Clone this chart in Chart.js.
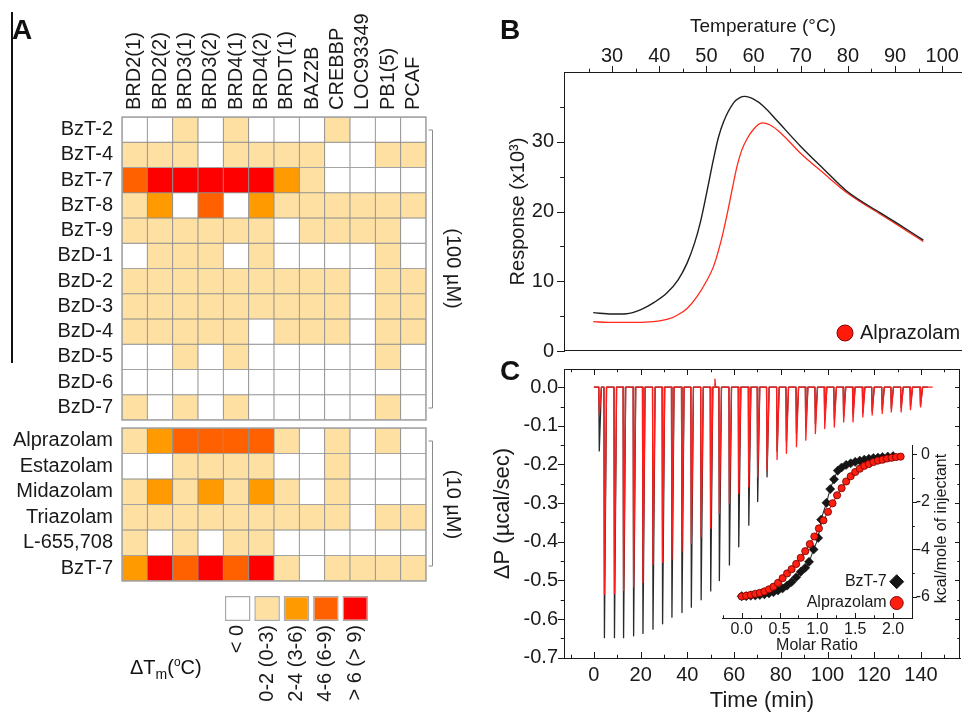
<!DOCTYPE html>
<html>
<head>
<meta charset="utf-8">
<script src="https://cdn.jsdelivr.net/npm/chart.js@4.4.1/dist/chart.umd.min.js"></script>
<style>
  body { margin: 0; background: #fff; }
  #fig { position: relative; width: 962px; height: 712px; overflow: hidden;
         font-family: 'Liberation Sans', Arial, Helvetica, sans-serif; color: #111; }
  #fig canvas, #fig .txt { position: absolute; }
  .panel { font-weight: bold; font-size: 28px; line-height: 28px; }
</style>
</head>
<body>
<div id="fig">
  <div style="position:absolute;left:11px;top:12px;width:1.5px;height:351px;background:#111"></div>
  <canvas id="heat100" width="480" height="424" style="left:0;top:0"></canvas>
  <canvas id="heat10" width="480" height="172" style="left:0;top:420px"></canvas>
  <canvas id="heatKey" width="200" height="122" style="left:200px;top:590px"></canvas>
  <canvas id="dsf" width="482" height="360" style="left:480px;top:0"></canvas>
  <canvas id="itc" width="482" height="360" style="left:480px;top:352px"></canvas>
  <canvas id="iso" width="262" height="230" style="left:700px;top:430px"></canvas>
  <div class="txt panel" style="left:12px;top:16px">A</div>
  <div class="txt panel" style="left:500px;top:16px">B</div>
  <div class="txt panel" style="left:500px;top:357px">C</div>
  <div class="txt" style="left:130px;top:650px;font-size:20px;line-height:24px">ΔT<sub style="font-size:14px">m</sub>(<sup style="font-size:12px">o</sup>C)</div>
</div>
<script>
// ---------- panel A: thermal shift screen ----------
const targets = ['BRD2(1)', 'BRD2(2)', 'BRD3(1)', 'BRD3(2)', 'BRD4(1)', 'BRD4(2)',
                 'BRDT(1)', 'BAZ2B', 'CREBBP', 'LOC93349', 'PB1(5)', 'PCAF'];
const compounds100 = ['BzT-2', 'BzT-4', 'BzT-7', 'BzT-8', 'BzT-9', 'BzD-1',
                      'BzD-2', 'BzD-3', 'BzD-4', 'BzD-5', 'BzD-6', 'BzD-7'];
// shift class per cell: 0 "< 0", 1 "0-2", 2 "2-4", 3 "4-6", 4 "> 6"
const shift100 = [
  [0, 0, 1, 0, 1, 0, 0, 0, 1, 0, 0, 0],
  [1, 1, 1, 0, 1, 1, 1, 1, 0, 0, 1, 1],
  [3, 4, 4, 4, 4, 4, 2, 1, 0, 0, 0, 0],
  [1, 2, 0, 3, 0, 2, 1, 1, 1, 1, 1, 1],
  [1, 1, 1, 1, 1, 1, 0, 1, 1, 1, 1, 0],
  [0, 1, 1, 1, 0, 1, 0, 0, 0, 0, 1, 0],
  [1, 1, 1, 1, 1, 1, 1, 1, 1, 0, 1, 1],
  [1, 1, 1, 1, 1, 1, 1, 1, 1, 0, 1, 1],
  [1, 1, 1, 1, 1, 0, 1, 1, 1, 0, 1, 1],
  [0, 0, 1, 0, 1, 0, 0, 0, 0, 0, 1, 0],
  [0, 0, 0, 0, 0, 0, 0, 0, 0, 0, 0, 0],
  [1, 0, 1, 0, 1, 0, 0, 0, 0, 0, 1, 0]
];
const compounds10 = ['Alprazolam', 'Estazolam', 'Midazolam', 'Triazolam', 'L-655,708', 'BzT-7'];
const shift10 = [
  [1, 2, 3, 3, 3, 3, 1, 0, 1, 0, 1, 0],
  [0, 0, 1, 1, 1, 1, 0, 0, 1, 0, 0, 0],
  [1, 2, 1, 2, 1, 2, 1, 0, 1, 0, 0, 0],
  [1, 1, 1, 1, 1, 1, 1, 1, 1, 0, 1, 1],
  [1, 0, 1, 0, 1, 1, 0, 0, 0, 0, 0, 0],
  [2, 4, 3, 4, 3, 4, 1, 0, 1, 1, 1, 1]
];
const shiftClasses = ['< 0', '0-2 (0-3)', '2-4 (3-6)', '4-6 (6-9)', '> 6 (> 9)'];

// ---------- panel B: melting curves ----------
const tempRef = [26, 30, 33, 36, 39, 41.6, 44, 45.9, 47.5, 48.7, 50, 51.5, 52.5, 53.6, 55.8, 57,
                 58.2, 60, 62.1, 65, 69.9, 75, 79.8, 86.9, 90, 96];
const respRef = [5.5, 5.3, 5.35, 5.9, 7.0, 8.3, 10.2, 12.6, 15.5, 18.4, 22.5, 27.5, 30.5, 32.8, 35.6, 36.3,
                 36.5, 36.1, 35.1, 33.0, 29.4, 26.0, 22.9, 19.8, 18.5, 15.9];
const tempAlp = [26, 30, 35, 38.7, 42, 44, 45.9, 48, 50, 51.5, 53, 54.3, 55.5, 56.5, 57.5, 58.6,
                 60, 61.8, 63.5, 65.7, 69.9, 75, 79.8, 86.9, 90, 96];
const respAlp = [4.2, 4.1, 4.1, 4.2, 4.6, 5.2, 6.1, 7.8, 10.0, 12.1, 15.5, 19.3, 23.3, 26.5, 28.8, 30.4,
                 31.8, 32.7, 32.4, 31.3, 28.4, 25.4, 22.7, 19.6, 18.3, 15.7];

// ---------- panel C: ITC raw heats (injection time, peak of each spike) ----------
const injTimes = [2.1, 4.3, 8.6, 12.5, 16.8, 20.8, 25.1, 29.2, 33.2, 37.5, 41.5, 45.7, 49.8, 53.5,
                  57.8, 61.8, 66.1, 69.9, 73.9, 78.2, 82.2, 86.5, 90.5, 94.6, 98.6, 102.7, 106.7,
                  110.7, 114.9, 118.9, 123.2, 127.1, 131.3, 135.3, 139.6];
const peaksBzT = [-0.165, -0.648, -0.648, -0.648, -0.643, -0.637, -0.626, -0.612, -0.595, -0.583,
                  -0.569, -0.550, -0.527, -0.500, -0.460, -0.413, -0.357, -0.296, -0.232, -0.165,
                  -0.140, -0.120, -0.105, -0.095, -0.088, -0.082, -0.076, -0.070, -0.066, -0.062,
                  -0.058, -0.055, -0.052, -0.050, -0.047];
const peaksAlp = [-0.070, -0.536, -0.533, -0.526, -0.516, -0.505, -0.458, -0.453, -0.445, -0.424,
                  -0.404, -0.387, -0.365, -0.327, -0.300, -0.275, -0.258, -0.232, -0.215, -0.187,
                  -0.171, -0.154, -0.137, -0.120, -0.107, -0.103, -0.090, -0.090, -0.077, -0.072,
                  -0.068, -0.064, -0.064, -0.058, -0.051];
const blipAlp = [[51.8, 0.021]];

// inset: integrated heats
const ratioBzT = [0.00, 0.06, 0.12, 0.18, 0.24, 0.30, 0.36, 0.42, 0.48, 0.54, 0.60, 0.66, 0.72, 0.78,
                  0.84, 0.89, 0.95, 1.01, 1.05, 1.12, 1.17, 1.22, 1.27, 1.32, 1.38, 1.44, 1.50, 1.56,
                  1.62, 1.68, 1.74, 1.80, 1.86, 1.93, 2.00];
const heatBzT = [-5.98, -5.98, -5.96, -5.95, -5.93, -5.90, -5.86, -5.81, -5.74, -5.65, -5.53, -5.38,
                 -5.18, -4.95, -4.78, -4.53, -4.01, -3.52, -2.75, -2.04, -1.46, -1.05, -0.68, -0.55,
                 -0.44, -0.37, -0.31, -0.26, -0.22, -0.18, -0.15, -0.13, -0.11, -0.09, -0.07];
const ratioAlp = [0.00, 0.06, 0.12, 0.18, 0.24, 0.30, 0.36, 0.42, 0.48, 0.54, 0.60, 0.66, 0.72, 0.78,
                  0.84, 0.90, 0.96, 1.02, 1.08, 1.14, 1.20, 1.26, 1.32, 1.38, 1.44, 1.50, 1.56, 1.62,
                  1.68, 1.74, 1.80, 1.86, 1.92, 1.98, 2.04, 2.10];
const heatAlp = [-5.99, -5.96, -5.92, -5.88, -5.84, -5.78, -5.69, -5.58, -5.42, -5.22, -5.02, -4.84,
                 -4.62, -4.36, -4.08, -3.78, -3.46, -3.12, -2.78, -2.42, -2.06, -1.72, -1.42, -1.14,
                 -0.92, -0.74, -0.60, -0.48, -0.40, -0.32, -0.26, -0.22, -0.17, -0.14, -0.11, -0.09];

// ---------- styling ----------
const ink = '#1a1a1a';
const shiftColours = ['#ffffff', '#fde0a2', '#ff9a00', '#ff6000', '#ff0000'];
const fontFamily = "'Liberation Sans', Arial, Helvetica, sans-serif";

Chart.defaults.font.family = fontFamily;
Chart.defaults.color = ink;
Chart.defaults.animation = false;
Chart.defaults.plugins.legend.display = false;
Chart.defaults.plugins.tooltip.enabled = false;

const pairs = (xs, ys) => xs.map((x, i) => ({x: x, y: ys[i]}));

// pin an axis box to a fixed size so the plot areas line up with the figure
function fixSize(size) {
  return function (scale) {
    if (scale.isHorizontal()) {
      scale.height = size;
      scale.paddingLeft = 0;
      scale.paddingRight = 0;
    } else {
      scale.width = size;
      scale.paddingTop = 0;
      scale.paddingBottom = 0;
    }
  };
}
const noGrid = {display: false, drawTicks: false};
const axisLine = {display: true, color: ink, width: 1};

// major / minor tick marks plus extra frame sides
const axisMarks = {
  id: 'axisMarks',
  afterDraw(chart, args, opts) {
    const ctx = chart.ctx, a = chart.chartArea;
    ctx.save();
    ctx.strokeStyle = ink;
    ctx.lineWidth = 1;
    ctx.beginPath();
    (opts.ticks || []).forEach(t => {
      const scale = chart.scales[t.scale];
      const sign = ((t.edge === 'top' || t.edge === 'left') === (t.dir === 'out')) ? -1 : 1;
      for (let i = 0; ; i++) {
        const v = t.from + i * t.step;
        if (v > t.to + 1e-9) break;
        const q = v / t.major;
        const len = Math.abs(q - Math.round(q)) < 1e-6 ? t.len : t.len * 0.55;
        const p = Math.round(scale.getPixelForValue(v)) + 0.5;
        if (t.edge === 'top' || t.edge === 'bottom') {
          const y = Math.round(a[t.edge]);
          ctx.moveTo(p, y);
          ctx.lineTo(p, y + sign * len);
        } else {
          const x = Math.round(a[t.edge]);
          ctx.moveTo(x, p);
          ctx.lineTo(x + sign * len, p);
        }
      }
    });
    (opts.frame || []).forEach(edge => {
      if (edge === 'top' || edge === 'bottom') {
        const y = Math.round(a[edge]) + (edge === 'top' ? 0.5 : -0.5);
        ctx.moveTo(a.left, y);
        ctx.lineTo(a.right, y);
      } else {
        const x = Math.round(a[edge]) - 0.5;
        ctx.moveTo(x, a.top);
        ctx.lineTo(x, a.bottom);
      }
    });
    ctx.stroke();
    ctx.restore();
  }
};

// frame round the heat map and the concentration bracket on its right
const bracket = {
  id: 'bracket',
  afterDraw(chart, args, opts) {
    const ctx = chart.ctx, a = chart.chartArea;
    ctx.save();
    ctx.strokeStyle = '#a4a4a4';
    ctx.lineWidth = 1.5;
    ctx.strokeRect(a.left, a.top, a.right - a.left, a.bottom - a.top);
    const x = Math.round(a.right) + 6.5;
    const y1 = a.top + opts.inset[0], y2 = a.bottom - opts.inset[1];
    ctx.strokeStyle = '#8a8a8a';
    ctx.lineWidth = 1;
    ctx.beginPath();
    ctx.moveTo(x - 4, y1);
    ctx.lineTo(x, y1);
    ctx.lineTo(x, y2);
    ctx.lineTo(x - 4, y2);
    ctx.stroke();
    ctx.translate(a.right + 27, (a.top + a.bottom) / 2);
    ctx.rotate(Math.PI / 2);
    ctx.fillStyle = ink;
    ctx.font = '20px ' + fontFamily;
    ctx.textAlign = 'center';
    ctx.textBaseline = 'middle';
    ctx.fillText(opts.text, 0, 0);
    ctx.restore();
  }
};

// little legends drawn inside the plot area, placed from its bottom-right corner
const markerKey = {
  id: 'markerKey',
  afterDraw(chart, args, opts) {
    const ctx = chart.ctx, a = chart.chartArea;
    ctx.save();
    ctx.font = opts.font;
    ctx.textBaseline = 'middle';
    opts.items.forEach(it => {
      const ds = chart.data.datasets[it.index];
      const mx = a.right + it.dx, my = a.bottom + it.dy, r = it.r;
      ctx.beginPath();
      if (it.shape === 'diamond') {
        ctx.moveTo(mx, my - r);
        ctx.lineTo(mx + r, my);
        ctx.lineTo(mx, my + r);
        ctx.lineTo(mx - r, my);
        ctx.closePath();
      } else {
        ctx.arc(mx, my, r, 0, Math.PI * 2);
      }
      ctx.fillStyle = it.fill;
      ctx.fill();
      ctx.strokeStyle = it.stroke;
      ctx.lineWidth = 1;
      ctx.stroke();
      ctx.fillStyle = ink;
      ctx.textAlign = it.textBefore ? 'right' : 'left';
      ctx.fillText(ds.label, it.textBefore ? mx - it.gap : mx + it.gap, my);
    });
    if (opts.sideTitle) {
      ctx.translate(a.right + opts.sideTitle.dx, (a.top + a.bottom) / 2 - 3);
      ctx.rotate(-Math.PI / 2);
      ctx.textAlign = 'center';
      ctx.fillStyle = ink;
      ctx.fillText(opts.sideTitle.text, 0, 0);
    }
    ctx.restore();
  }
};

// ---------- panel A charts ----------
function heatChart(id, names, levels, showTargets, padding, dose, inset) {
  return new Chart(document.getElementById(id), {
    type: 'bar',
    data: {
      labels: targets,
      datasets: levels.map((row, r) => ({
        label: names[r],
        data: row.map(() => [r, r + 1]),
        backgroundColor: row.map(l => shiftColours[l]),
        borderColor: '#8f8f8f',
        borderWidth: 0.8,
        borderSkipped: false,
        grouped: false,
        barPercentage: 1,
        categoryPercentage: 1
      }))
    },
    options: {
      responsive: false,
      layout: {padding: padding},
      scales: {
        x: {
          position: 'top',
          display: showTargets,
          // rotated labels on a top axis come out one line-height left of the tick
          ticks: {minRotation: 90, maxRotation: 90, autoSkip: false, padding: 7, labelOffset: 24,
                  font: {size: 20}},
          grid: noGrid,
          border: {display: false},
          afterFit: showTargets ? fixSize(117) : undefined
        },
        y: {
          min: 0,
          max: names.length,
          reverse: true,
          afterBuildTicks: s => { s.ticks = names.map((n, i) => ({value: i + 0.5})); },
          ticks: {padding: 9, font: {size: 20}, callback: v => names[Math.floor(v)]},
          grid: noGrid,
          border: {display: false},
          afterFit: fixSize(122)
        }
      },
      plugins: {bracket: {text: dose, inset: inset}}
    },
    plugins: [bracket]
  });
}
heatChart('heat100', compounds100, shift100, true, {left: 0, top: 0, right: 54, bottom: 4}, '(100 µM)', [13, 12]);
heatChart('heat10', compounds10, shift10, false, {left: 0, top: 8, right: 54, bottom: 11}, '(10 µM)', [13, 15]);

new Chart(document.getElementById('heatKey'), {
  type: 'bar',
  data: {
    labels: shiftClasses,
    datasets: [{
      data: shiftClasses.map(() => [0, 1]),
      backgroundColor: shiftColours,
      borderColor: '#a9a9a9',
      borderWidth: 1.5,
      borderSkipped: false,
      barPercentage: 0.87,
      categoryPercentage: 1
    }]
  },
  options: {
    responsive: false,
    layout: {padding: {left: 23, right: 30, top: 6, bottom: 0}},
    scales: {
      x: {
        ticks: {minRotation: 90, maxRotation: 90, autoSkip: false, padding: 4, font: {size: 20}},
        grid: noGrid,
        border: {display: false},
        afterFit: fixSize(91)
      },
      y: {display: false, min: 0, max: 1}
    }
  }
});

// ---------- panel B ----------
new Chart(document.getElementById('dsf'), {
  type: 'line',
  data: {
    datasets: [
      {label: 'Alprazolam', data: pairs(tempAlp, respAlp), borderColor: '#ff2a1a', borderWidth: 1.3,
       pointRadius: 0, cubicInterpolationMode: 'monotone', order: 1},
      {label: 'No ligand', data: pairs(tempRef, respRef), borderColor: '#1e1e1e', borderWidth: 1.4,
       pointRadius: 0, cubicInterpolationMode: 'monotone', order: 0}
    ]
  },
  options: {
    responsive: false,
    layout: {padding: {left: 0, top: 0, right: 0, bottom: 9}},
    scales: {
      x: {
        type: 'linear', position: 'top', min: 19.8, max: 104.2,
        ticks: {stepSize: 10, includeBounds: false, padding: 4, font: {size: 20},
                callback: v => (v < 25 ? '' : v)},
        grid: noGrid, border: axisLine,
        title: {display: true, text: 'Temperature (°C)', font: {size: 19}, padding: {top: 15, bottom: 0}},
        afterFit: fixSize(72)
      },
      y: {
        min: 0, max: 40,
        ticks: {stepSize: 10, includeBounds: false, padding: 10, font: {size: 20},
                callback: v => (v === 40 ? '' : v)},
        grid: noGrid, border: axisLine,
        title: {display: true, text: 'Response (x10³)', font: {size: 20}, padding: {top: 26, bottom: 0}},
        afterFit: fixSize(84)
      }
    },
    plugins: {
      axisMarks: {
        ticks: [
          {scale: 'x', edge: 'top', dir: 'out', from: 25, to: 100, step: 5, major: 10, len: 6},
          {scale: 'y', edge: 'left', dir: 'out', from: 0, to: 35, step: 5, major: 10, len: 7}
        ],
        frame: ['bottom']
      },
      markerKey: {
        font: '20px ' + fontFamily,
        items: [{index: 0, shape: 'circle', dx: -117, dy: -18, r: 8, gap: 15,
                 fill: '#ff1a0a', stroke: '#8a0000'}]
      }
    }
  },
  plugins: [axisMarks, markerKey]
});

// ---------- panel C ----------
function trace(times, peaks, end, extra) {
  const pts = [{x: 0, y: 0}];
  times.forEach((t, i) => {
    pts.push({x: t, y: 0}, {x: t + 0.2, y: peaks[i]}, {x: t + 1.1, y: 0});
  });
  extra.forEach(p => pts.push({x: p[0] - 0.2, y: 0}, {x: p[0], y: p[1]}, {x: p[0] + 0.3, y: 0}));
  pts.push({x: end, y: 0});
  return pts.sort((p, q) => p.x - q.x);
}

new Chart(document.getElementById('itc'), {
  type: 'line',
  data: {
    datasets: [
      {label: 'Alprazolam', data: trace(injTimes, peaksAlp, 145, blipAlp), borderColor: '#ff1e1e',
       borderWidth: 1.3, pointRadius: 0, borderJoinStyle: 'round', order: 0},
      {label: 'BzT-7', data: trace(injTimes, peaksBzT, 143, []), borderColor: '#2a2a2a',
       borderWidth: 1.3, pointRadius: 0, borderJoinStyle: 'round', order: 1}
    ]
  },
  options: {
    responsive: false,
    layout: {padding: {left: 0, top: 17, right: 2, bottom: 0}},
    scales: {
      x: {
        type: 'linear', min: -12.8, max: 156.7,
        ticks: {stepSize: 20, includeBounds: false, padding: 5, font: {size: 20}},
        grid: noGrid, border: axisLine,
        title: {display: true, text: 'Time (min)', font: {size: 22}, padding: {top: 0, bottom: -2}},
        afterFit: fixSize(54)
      },
      y: {
        min: -0.7005, max: 0.047,
        ticks: {stepSize: 0.1, includeBounds: false, padding: 6, font: {size: 20},
                callback: v => v.toFixed(1)},
        grid: noGrid, border: axisLine,
        title: {display: true, text: 'ΔP (µcal/sec)', font: {size: 22}, padding: {top: 10, bottom: 0}},
        afterFit: fixSize(84)
      }
    },
    plugins: {
      axisMarks: {
        ticks: [
          {scale: 'x', edge: 'bottom', dir: 'in', from: -10, to: 150, step: 10, major: 20, len: 6},
          {scale: 'x', edge: 'top', dir: 'in', from: -10, to: 150, step: 10, major: 20, len: 6},
          {scale: 'y', edge: 'left', dir: 'out', from: -0.7, to: 0.0, step: 0.05, major: 0.1, len: 6},
          {scale: 'y', edge: 'right', dir: 'in', from: -0.7, to: 0.0, step: 0.05, major: 0.1, len: 5}
        ],
        frame: ['top', 'right']
      }
    }
  },
  plugins: [axisMarks]
});

// inset isotherm
new Chart(document.getElementById('iso'), {
  type: 'scatter',
  data: {
    datasets: [
      {label: 'Alprazolam', data: pairs(ratioAlp, heatAlp), showLine: true, tension: 0.3,
       borderColor: '#e8170c', borderWidth: 1.1, pointStyle: 'circle', pointRadius: 3.6,
       pointBackgroundColor: '#ff1f0f', pointBorderColor: '#6b0000', pointBorderWidth: 0.8, order: 0},
      {label: 'BzT-7', data: pairs(ratioBzT, heatBzT), showLine: true, tension: 0.3,
       borderColor: '#333333', borderWidth: 1.1, pointStyle: 'rectRot', pointRadius: 4.6,
       pointBackgroundColor: '#151515', pointBorderColor: '#151515', pointBorderWidth: 0.5, order: 1}
    ]
  },
  options: {
    responsive: false,
    layout: {padding: {left: 22, top: 15, right: 32, bottom: 5}},
    scales: {
      x: {
        type: 'linear', min: -0.26, max: 2.25,
        ticks: {stepSize: 0.5, includeBounds: false, autoSkip: false, padding: 2, font: {size: 16},
                callback: v => v.toFixed(1)},
        grid: noGrid, border: axisLine,
        title: {display: true, text: 'Molar Ratio', font: {size: 16}, padding: {top: 0, bottom: 0}},
        afterFit: fixSize(37)
      },
      y: {
        position: 'right', min: -6.9, max: 0.4,
        ticks: {stepSize: 2, includeBounds: false, padding: 3, crossAlign: 'far', font: {size: 16},
                callback: v => String(v)},
        grid: noGrid, border: axisLine,
        afterFit: fixSize(18)
      }
    },
    plugins: {
      axisMarks: {
        ticks: [
          {scale: 'x', edge: 'bottom', dir: 'in', from: -0.25, to: 2.25, step: 0.25, major: 0.5, len: 5},
          {scale: 'y', edge: 'right', dir: 'out', from: -6, to: 0, step: 1, major: 2, len: 5}
        ]
      },
      markerKey: {
        font: '16px ' + fontFamily,
        items: [
          {index: 1, shape: 'diamond', dx: -15.3, dy: -36.3, r: 7, gap: 10, textBefore: true,
           fill: '#151515', stroke: '#151515'},
          {index: 0, shape: 'circle', dx: -15.3, dy: -15, r: 6.5, gap: 10, textBefore: true,
           fill: '#ff1f0f', stroke: '#8a0000'}
        ],
        sideTitle: {text: 'kcal/mole of injectant', dx: 30}
      }
    }
  },
  plugins: [axisMarks, markerKey]
});
</script>
</body>
</html>
